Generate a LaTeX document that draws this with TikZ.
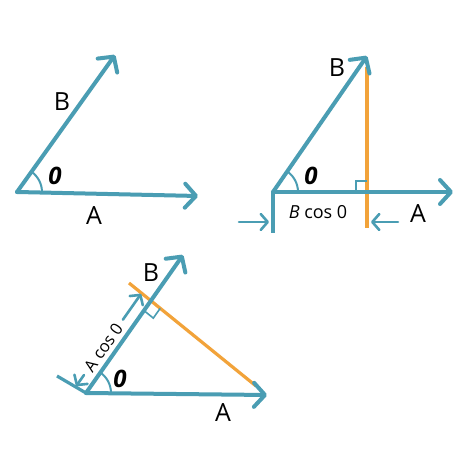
\documentclass[tikz,border=0pt]{standalone}
\usepackage{fontspec}
\setmainfont{Open Sans}
\usetikzlibrary{arrows.meta,calc}
\definecolor{vteal}{HTML}{4A9DB3}
\definecolor{vorange}{HTML}{F2A33A}
\tikzset{
  vec/.style={draw=vteal,line width=2pt,line cap=round,-{Straight Barb[length=5.5pt,width=12pt,round]}},
  tick/.style={draw=vteal,line width=1.6pt},
  dimarrow/.style={draw=vteal,line width=1.3pt,line cap=round,-{Straight Barb[length=3.5pt,width=8pt,round]}},
  proj/.style={draw=vorange,line width=1.6pt},
  rmark/.style={draw=vteal,line width=0.8pt},
  angarc/.style={draw=vteal,line width=1pt},
  biglabel/.style={font=\fontsize{12.5}{14}\selectfont,inner sep=0pt},
  thlabel/.style={font=\fontsize{12}{14}\selectfont\bfseries\itshape,inner sep=0pt},
  smalllabel/.style={font=\fontsize{9}{11}\selectfont,inner sep=0pt},
  tinylabel/.style={font=\fontsize{8.3}{10}\selectfont,inner sep=0pt},
}
\begin{document}
\begin{tikzpicture}[x=0.5pt,y=-0.5pt]
\useasboundingbox[fill=white] (0,0) rectangle (474,474);
% ---------- diagram 1 ----------
\coordinate (o1) at (17,192);
\coordinate (a1) at (198,196);
\coordinate (b1) at (115,55);
\draw[vec] (o1) -- (a1);
\draw[vec] (o1) -- (b1);
\draw[angarc] ($(o1)!25pt*0.5!(a1)$) arc[start angle=-1,end angle=54,radius=12.5pt];
\node[biglabel] (lb1) at (62,102) {B};
\node[biglabel] (la1) at (94,216) {A};
\node[thlabel] (th1) at (55,176) {0};
% ---------- diagram 2 ----------
\coordinate (o2) at (273,192);
\coordinate (a2) at (453,192);
\coordinate (b2) at (367,56);
\coordinate (p2top) at (367,67);
\coordinate (p2bot) at (367,228);
\coordinate (p2foot) at (367,192);
\coordinate (t2) at (273,233);
\coordinate (l2s) at (239,222);
\coordinate (l2e) at (269,222);
\coordinate (r2s) at (398,222);
\coordinate (r2e) at (371,222);
\draw[proj] (p2top) -- (p2bot);
\draw[vec] (o2) -- (a2);
\draw[vec] (o2) -- (b2);
\draw[tick] (o2) -- (t2);
\draw[rmark] ($(p2foot)+(-11,0)$) -- ++(0,-11) -- ++(11,0);
\draw[angarc] ($(o2)+(12.5pt,0)$) arc[start angle=0,end angle=55,radius=12.5pt];
\draw[dimarrow] (l2s) -- (l2e);
\draw[dimarrow] (r2s) -- (r2e);
\node[biglabel] (lb2) at (337,68) {B};
\node[biglabel] (la2) at (418,214) {A};
\node[thlabel] (th2) at (311,176) {0};
\node[smalllabel] (bc2) at (318,212) {\textit{B} cos 0};
% ---------- diagram 3 ----------
\coordinate (o3) at (86,393);
\coordinate (a3) at (267,395);
\coordinate (b3) at (183,255);
\coordinate (q1) at (129,283);
\coordinate (q2) at (256,386);
\coordinate (p3) at (intersection of o3--b3 and q1--q2);
\coordinate (m1) at ($(p3)!6pt!(o3)$);
\coordinate (m3) at ($(p3)!6pt!(q2)$);
\coordinate (m2) at ($(m1)+(m3)-(p3)$);
\coordinate (t3) at (57,376);
\coordinate (d1) at ($(o3)!6pt!90:(b3)$);
\coordinate (d2) at ($(p3)!6pt!-90:(o3)$);
\draw[proj] (q1) -- (q2);
\draw[vec] (o3) -- (a3);
\draw[vec] (o3) -- (b3);
\draw[tick] (o3) -- (t3);
\draw[rmark] (m1) -- (m2) -- (m3);
\draw[angarc] ($(o3)+(12.5pt,0)$) arc[start angle=0,end angle=55,radius=12.5pt];
\coordinate (g1) at ($(d1)!0.12!(d2)$);
\coordinate (g2) at ($(d1)!0.72!(d2)$);
\draw[dimarrow] (g1) -- (d1);
\draw[dimarrow] (g2) -- (d2);
\node[tinylabel,rotate=55] (ac3) at ($(d1)!0.42!(d2)$) {A cos 0};
\node[biglabel] (lb3) at (151,273) {B};
\node[biglabel] (la3) at (223,413) {A};
\node[thlabel] (th3) at (120,379) {0};
\end{tikzpicture}
\end{document}
